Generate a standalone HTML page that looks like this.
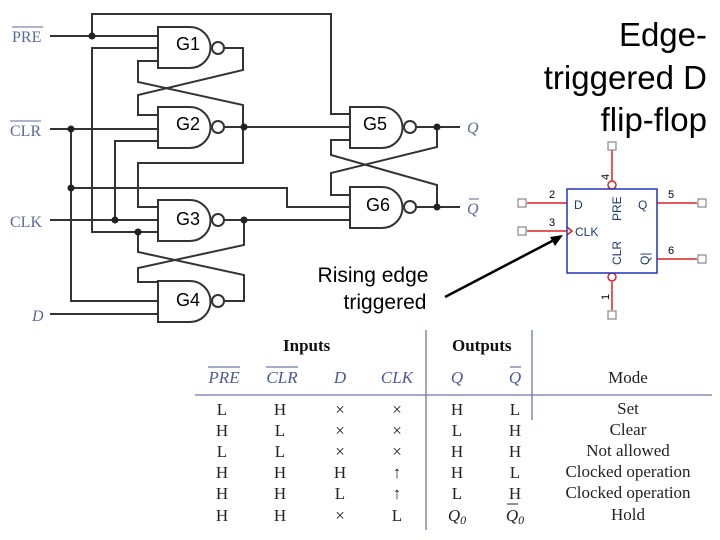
<!DOCTYPE html>
<html><head><meta charset="utf-8"><style>
body{margin:0;background:#fff}
svg{display:block}
</style></head><body>
<svg width="720" height="540" viewBox="0 0 720 540" xmlns="http://www.w3.org/2000/svg">
<rect width="720" height="540" fill="#fff"/>
<g stroke="#333" stroke-width="2" fill="none">
<!-- gates -->
<path d="M158,27 H190 A20,20 0 0 1 190,68 H158 Z"/>
<path d="M158,107 H190 A20,20 0 0 1 190,148 H158 Z"/>
<path d="M158,200 H190 A20,20 0 0 1 190,241 H158 Z"/>
<path d="M158,281 H190 A20,20 0 0 1 190,322 H158 Z"/>
<path d="M350,107 H382 A20,20 0 0 1 382,148 H350 Z"/>
<path d="M350,187 H382 A20,20 0 0 1 382,228 H350 Z"/>
<circle cx="218" cy="48" r="6"/><circle cx="218" cy="127" r="6"/>
<circle cx="218" cy="220" r="6"/><circle cx="218" cy="301" r="6"/>
<circle cx="410" cy="127" r="6"/><circle cx="410" cy="207" r="6"/>
<!-- PRE -->
<path d="M50,36 H158 M92,36 V14 H331 V114 H350"/>
<!-- x=92 line -->
<path d="M158,48 H92 V232 H158"/>
<!-- G1/G2 cross -->
<path d="M224,48 H243 V70 L138,95 V115 H158"/>
<path d="M158,61 H138 V82 L243,105 V163 H138 V207 H158"/>
<!-- CLR -->
<path d="M50,129 H158 M71,129 V301 H158 M71,188 H287 V207 H350"/>
<!-- CLK -->
<path d="M50,220 H158 M115,220 V141 H158"/>
<!-- G2 out -->
<path d="M224,127 H350"/>
<!-- G3 out -->
<path d="M224,220 H350"/>
<!-- G3/G4 cross -->
<path d="M244,220 V245 L138,268 V282 H158"/>
<path d="M138,232 V252 L244,275 V301 H224"/>
<!-- D -->
<path d="M50,314 H158"/>
<!-- G5/G6 -->
<path d="M416,127 H460 M416,207 H460"/>
<path d="M350,140 H331 V155 L437,185 V207"/>
<path d="M437,127 V147 L331,173 V195 H350"/>
</g>
<g fill="#222">
<circle cx="92" cy="36" r="3.5"/><circle cx="71" cy="129" r="3.5"/><circle cx="71" cy="188" r="3.5"/>
<circle cx="115" cy="220" r="3.5"/><circle cx="138" cy="232" r="3.5"/><circle cx="244" cy="127" r="3.5"/>
<circle cx="244" cy="220" r="3.5"/><circle cx="437" cy="127" r="3.5"/><circle cx="437" cy="207" r="3.5"/>
</g>
<g font-family="Liberation Sans, sans-serif" font-size="18" fill="#000">
<text x="176" y="50">G1</text><text x="176" y="130">G2</text>
<text x="176" y="225">G3</text><text x="176" y="306">G4</text>
<text x="363" y="130">G5</text><text x="366" y="211">G6</text>
</g>
<g font-family="Liberation Serif, serif" font-size="16" fill="#5a6a9a">
<text x="12" y="42">PRE</text><line x1="12" y1="27" x2="43" y2="27" stroke="#5a6a9a"/>
<text x="10" y="136">CLR</text><line x1="10" y1="121" x2="41" y2="121" stroke="#5a6a9a"/>
<text x="10" y="227">CLK</text>
<text x="32" y="321" font-style="italic">D</text>
<text x="467" y="133" font-style="italic">Q</text>
<text x="467" y="214" font-style="italic">Q</text><line x1="469" y1="199" x2="479" y2="199" stroke="#5a6a9a"/>
</g>
<g font-family="Liberation Sans, sans-serif" font-size="33" fill="#000" text-anchor="end">
<text x="707" y="46">Edge-</text>
<text x="707" y="89">triggered D</text>
<text x="707" y="131">flip-flop</text>
</g>
<g font-family="Liberation Sans, sans-serif" font-size="21" fill="#000" text-anchor="middle">
<text x="373" y="282">Rising edge</text>
<text x="385" y="309">triggered</text>
</g>
<line x1="445" y1="297" x2="556" y2="239" stroke="#000" stroke-width="2.5"/>
<polygon points="563,235 550,237 555,246" fill="#000"/>
<!-- FF symbol -->
<g stroke="#d22" stroke-width="1.5" fill="none">
<path d="M527,203 H567 M527,231 H567 M657,203 H697 M657,259 H697 M612,150 V181 M612,282 V310"/>
<circle cx="612" cy="185" r="4" fill="#fff"/><circle cx="612" cy="277" r="4" fill="#fff"/>
<path d="M567,227 L572,231 L567,235"/>
</g>
<rect x="567" y="189" width="90" height="84" fill="none" stroke="#2233bb" stroke-width="1.5"/>
<g fill="#fff" stroke="#888" stroke-width="1.2">
<rect x="518" y="199" width="8" height="8"/><rect x="518" y="227" width="8" height="8"/>
<rect x="698" y="199" width="8" height="8"/><rect x="698" y="255" width="8" height="8"/>
<rect x="608" y="142" width="8" height="8"/><rect x="608" y="311" width="8" height="8"/>
</g>
<g font-family="Liberation Sans, sans-serif" font-size="12" fill="#1a3a6a">
<text x="574" y="209">D</text><text x="575" y="236">CLK</text>
<text x="638" y="209">Q</text>
<text transform="translate(621,221) rotate(-90)">PRE</text>
<text transform="translate(621,265) rotate(-90)">CLR</text>
<text transform="translate(649,265) rotate(-90)">Q|</text>
</g>
<g font-family="Liberation Sans, sans-serif" font-size="11" fill="#000">
<text x="549" y="198">2</text><text x="549" y="226">3</text>
<text x="668" y="198">5</text><text x="668" y="254">6</text>
<text transform="translate(609,180) rotate(-90)">4</text>
<text transform="translate(609,300) rotate(-90)">1</text>
</g>
<!-- table -->
<g stroke="#6a7aa0" stroke-width="1.3">
<line x1="195" y1="395" x2="712" y2="395"/>
<line x1="426" y1="330" x2="426" y2="530"/>
<line x1="532" y1="330" x2="532" y2="420"/>
</g>
<g font-family="Liberation Serif, serif" font-size="17" font-weight="bold" fill="#111">
<text x="283" y="351">Inputs</text><text x="452" y="351">Outputs</text>
</g>
<g font-family="Liberation Serif, serif" font-size="17" font-style="italic" fill="#4a5a9a" text-anchor="middle">
<text x="224" y="383">PRE</text><line x1="208" y1="367" x2="240" y2="367" stroke="#4a5a9a"/>
<text x="282" y="383">CLR</text><line x1="266" y1="367" x2="298" y2="367" stroke="#4a5a9a"/>
<text x="340" y="383">D</text><text x="397" y="383">CLK</text>
<text x="457" y="383">Q</text><text x="515" y="383">Q</text><line x1="510" y1="367" x2="521" y2="367" stroke="#4a5a9a"/>
</g>
<g font-family="Liberation Serif, serif" font-size="17" fill="#222" text-anchor="middle">
<text x="628" y="383">Mode</text>
<text x="222" y="415">L</text><text x="280" y="415">H</text><text x="340" y="415">×</text><text x="397" y="415">×</text><text x="457" y="415">H</text><text x="515" y="415">L</text><text x="628" y="414">Set</text>
<text x="222" y="436">H</text><text x="280" y="436">L</text><text x="340" y="436">×</text><text x="397" y="436">×</text><text x="457" y="436">L</text><text x="515" y="436">H</text><text x="628" y="435">Clear</text>
<text x="222" y="457">L</text><text x="280" y="457">L</text><text x="340" y="457">×</text><text x="397" y="457">×</text><text x="457" y="457">H</text><text x="515" y="457">H</text><text x="628" y="456">Not allowed</text>
<text x="222" y="478">H</text><text x="280" y="478">H</text><text x="340" y="478">H</text><text x="397" y="478">↑</text><text x="457" y="478">H</text><text x="515" y="478">L</text><text x="628" y="477">Clocked operation</text>
<text x="222" y="499">H</text><text x="280" y="499">H</text><text x="340" y="499">L</text><text x="397" y="499">↑</text><text x="457" y="499">L</text><text x="515" y="499">H</text><text x="628" y="498">Clocked operation</text>
<text x="222" y="521">H</text><text x="280" y="521">H</text><text x="340" y="521">×</text><text x="397" y="521">L</text><text x="628" y="520">Hold</text>
<text x="457" y="521" font-style="italic">Q<tspan font-size="12" dy="3">0</tspan></text>
<text x="515" y="521" font-style="italic">Q<tspan font-size="12" dy="3">0</tspan></text>
<line x1="507" y1="504" x2="518" y2="504" stroke="#222"/>
</g>
</svg>
</body></html>
